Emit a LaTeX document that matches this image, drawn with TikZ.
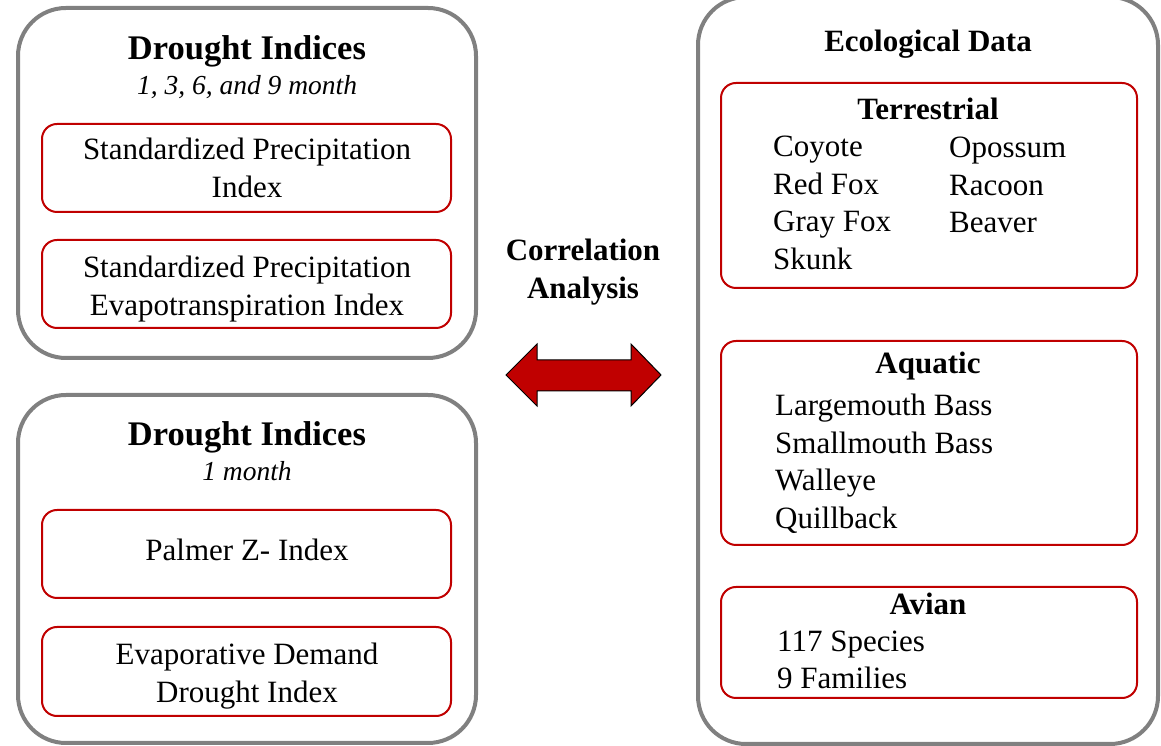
\documentclass[tikz,border=0pt]{standalone}
\usepackage{fontspec}
\setmainfont{Liberation Serif}
\usetikzlibrary{positioning}
\definecolor{boxgray}{HTML}{808080}
\definecolor{boxred}{HTML}{C00000}
\newcommand{\txt}{\fontsize{31}{37.5}\selectfont}

\begin{document}
\begin{tikzpicture}[x=1pt,y=1pt,
  outerbox/.style={draw=boxgray, line width=4pt, rounded corners=48pt},
  innerbox/.style={draw=boxred, line width=2pt, rounded corners=15pt},
  title/.style={font=\fontsize{34.5}{40}\selectfont\bfseries, inner sep=0pt},
  subtitle/.style={font=\fontsize{27.5}{33}\selectfont\itshape, inner sep=0pt},
  head/.style={font=\fontsize{31}{37.5}\selectfont\bfseries, inner sep=0pt, align=center},
  entry/.style={font=\txt, inner sep=0pt, align=center},
  items/.style={font=\txt, inner sep=0pt, align=left, anchor=west}]
\useasboundingbox (0,0) rectangle (1161,746);
% left column
\draw[outerbox] (18,738) rectangle (476,388);
\draw[outerbox] (18,351) rectangle (476,3);
\node[title] (dtitle) at (247,695) {Drought Indices};
\node[subtitle] (dmonths) at (247,659) {1, 3, 6, and 9 month};
\draw[innerbox] (42,622) rectangle (451,534);
\node[entry] (spi) at (247,578) {Standardized Precipitation\\Index};
\draw[innerbox] (42,506) rectangle (451,418);
\node[entry] (spei) at (247,457) {Standardized Precipitation\\Evapotranspiration Index};
\node[title] (dtitleb) at (247,309) {Drought Indices};
\node[subtitle] (dmonth) at (247,275) {1 month};
\draw[innerbox] (42,236) rectangle (451,148);
\node[entry] (pzi) at (247,196) {Palmer Z- Index};
\draw[innerbox] (42,119) rectangle (451,30);
\node[entry] (eddi) at (247,70) {Evaporative Demand\\Drought Index};
% middle
\node[head] (corr) at (583,474) {Correlation\\Analysis};
\fill[boxred, draw=black, line width=1pt] (506,371) -- (537,402) -- (537,386) -- (631,386)
  -- (631,402) -- (661,371) -- (631,340) -- (631,355) -- (537,355) -- (537,340) -- cycle;
% right column
\draw[outerbox] (698,749) rectangle (1158,2);
\node[head] (eco) at (928,702) {Ecological Data};
\draw[innerbox] (721,663) rectangle (1137,458);
\node[head] (terr) at (928,637) {Terrestrial};
\node[items] (terra) at (773,543) {Coyote\\Red Fox\\Gray Fox\\Skunk};
\node[items] (terrb) at (949,561) {Opossum\\Racoon\\Beaver};
\draw[innerbox] (721,405) rectangle (1137,201);
\node[head] (aqua) at (928,380) {Aquatic};
\node[items] (aquaa) at (775,282) {Largemouth Bass\\Smallmouth Bass\\Walleye\\Quillback};
\draw[innerbox] (721,159) rectangle (1137,48);
\node[head] (avian) at (928,142) {Avian};
\node[items] (aviana) at (777,86) {117 Species\\9 Families};
\end{tikzpicture}
\end{document}
